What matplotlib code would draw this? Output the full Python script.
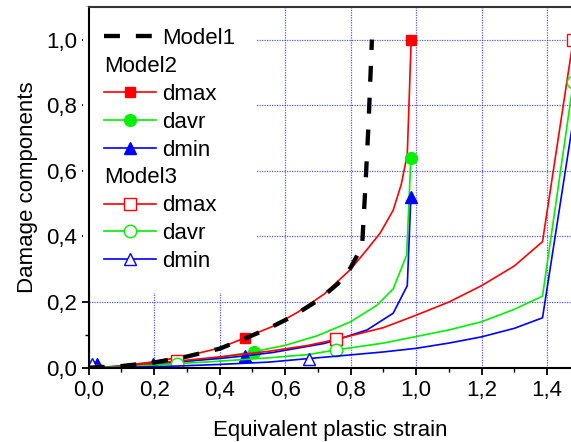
import matplotlib
matplotlib.use("Agg")
import matplotlib.pyplot as plt
from matplotlib.lines import Line2D
from matplotlib.ticker import MultipleLocator, FuncFormatter

plt.rcParams['font.family'] = ['Liberation Sans', 'DejaVu Sans']
plt.rcParams['font.size'] = 16

# Model1 (dashed black)
m1_x = [0.0, 0.1, 0.2, 0.3, 0.4, 0.48, 0.55, 0.62, 0.7, 0.76, 0.8, 0.835, 0.845, 0.855, 0.865]
m1_d = [0.0, 0.005, 0.016, 0.034, 0.058, 0.09, 0.12, 0.155, 0.205, 0.255, 0.305, 0.37, 0.55, 0.75, 1.0]

# Model2 (filled markers)
m2_dmax_x = [0.01, 0.05, 0.1, 0.2, 0.3, 0.4, 0.477, 0.56, 0.64, 0.72, 0.8, 0.85, 0.89, 0.93, 0.955, 0.973, 0.985]
m2_dmax = [0.02, 0.002, 0.006, 0.018, 0.036, 0.06, 0.091, 0.125, 0.17, 0.225, 0.3, 0.36, 0.41, 0.48, 0.56, 0.65, 1.0]
m2_davr_x = [0.01, 0.03, 0.05, 0.1, 0.2, 0.3, 0.4, 0.505, 0.6, 0.7, 0.8, 0.88, 0.93, 0.971, 0.984]
m2_davr = [0.02, 0.01, 0.001, 0.004, 0.01, 0.019, 0.032, 0.049, 0.068, 0.098, 0.14, 0.19, 0.24, 0.343, 0.64]
m2_dmin_x = [0.01, 0.024, 0.05, 0.1, 0.195, 0.3, 0.4, 0.477, 0.56, 0.64, 0.72, 0.76, 0.85, 0.93, 0.973, 0.984]
m2_dmin = [0.02, 0.012, 0.001, 0.004, 0.012, 0.02, 0.028, 0.036, 0.046, 0.06, 0.074, 0.086, 0.115, 0.166, 0.25, 0.52]

# Model3 (open markers)
m3_x = [0.01, 0.05, 0.15, 0.27, 0.4, 0.55, 0.67, 0.755, 0.9, 1.0, 1.1, 1.2, 1.3, 1.386, 1.48]
m3_dmax = [0.012, 0.001, 0.008, 0.02, 0.033, 0.05, 0.068, 0.086, 0.122, 0.16, 0.2, 0.25, 0.31, 0.384, 1.0]
m3_davr = [0.01, 0.001, 0.005, 0.012, 0.02, 0.03, 0.04, 0.054, 0.075, 0.095, 0.115, 0.14, 0.178, 0.218, 0.87]
m3_dmin_x = [0.01, 0.05, 0.15, 0.27, 0.4, 0.55, 0.673, 0.755, 0.9, 1.0, 1.1, 1.2, 1.3, 1.386, 1.49]
m3_dmin = [0.01, 0.0, 0.002, 0.005, 0.01, 0.017, 0.028, 0.035, 0.048, 0.059, 0.075, 0.094, 0.12, 0.152, 0.82]

RED, GREEN, BLUE = '#ff0000', '#00f000', '#0000ff'

fig = plt.figure(figsize=(5.71, 4.42), dpi=100)
ax = fig.add_axes([0.1553, 0.1681, 0.8447, 0.8167])

l1, = ax.plot(m1_x, m1_d, color='black', lw=3.1, dashes=(3.7, 3.7), zorder=4)

l2a, = ax.plot(m2_dmax_x, m2_dmax, color=RED, lw=1.2, marker='s', ms=7.5,
               markevery=[6, 16], zorder=3)
l2b, = ax.plot(m2_davr_x, m2_davr, color=GREEN, lw=1.2, marker='o', ms=8.5,
               markevery=[7, 14], zorder=3)
l2c, = ax.plot(m2_dmin_x, m2_dmin, color=BLUE, lw=1.2, marker='^', ms=9,
               markevery=[1, 4, 7, 15], zorder=3)

l3a, = ax.plot(m3_x, m3_dmax, color=RED, lw=1.2, marker='s', ms=8, mfc='white',
               markevery=[3, 7, 14], zorder=3)
l3b, = ax.plot(m3_x, m3_davr, color=GREEN, lw=1.2, marker='o', ms=9, mfc='white',
               markevery=[3, 7, 14], zorder=3)
l3c, = ax.plot(m3_dmin_x, m3_dmin, color=BLUE, lw=1.2, marker='^', ms=9, mfc='white',
               markevery=[0, 6, 14], zorder=3)

ax.set_xlim(0, 1.473)
ax.set_ylim(0, 1.1)
ax.xaxis.set_major_locator(MultipleLocator(0.2))
ax.xaxis.set_minor_locator(MultipleLocator(0.1))
ax.yaxis.set_major_locator(MultipleLocator(0.2))
ax.yaxis.set_minor_locator(MultipleLocator(0.1))
fmt = FuncFormatter(lambda v, p: f"{v:.1f}".replace('.', ','))
ax.xaxis.set_major_formatter(fmt)
ax.yaxis.set_major_formatter(fmt)
ax.tick_params(which='major', direction='out', length=5, width=1.3, labelsize=16)
ax.tick_params(which='minor', direction='out', length=3, width=1.0)
ax.grid(True, which='major', color='#3030ff', lw=0.9, linestyle=(0, (1, 1)), alpha=0.8)
ax.set_axisbelow(True)
for s in ['left', 'bottom', 'top']:
    ax.spines[s].set_linewidth(1.5)
    ax.spines[s].set_zorder(11)
ax.spines['top'].set_color('#333333')
ax.spines['right'].set_visible(False)

ax.set_xlabel('Equivalent plastic strain', fontsize=16, labelpad=14)
ax.set_ylabel('Damage components', fontsize=16, labelpad=6)

hdr2 = Line2D([], [], linestyle='none')
hdr3 = Line2D([], [], linestyle='none')
handles = [l1, hdr2, l2a, l2b, l2c, hdr3, l3a, l3b, l3c]
labels = ['Model1', 'Model2', 'dmax', 'davr', 'dmin', 'Model3', 'dmax', 'davr', 'dmin']
leg = ax.legend(handles, labels, loc='upper left', bbox_to_anchor=(-0.0125, 1.0),
                borderaxespad=0.0, borderpad=0.96, handlelength=2.35, handletextpad=0.27,
                labelspacing=0.31, frameon=True, facecolor='white', edgecolor='none',
                framealpha=1.0, fancybox=False, fontsize=16)
leg.set_zorder(10)

# header rows: text starts where the handles start
rows = leg._legend_handle_box.get_children()[0].get_children()
for i in (1, 5):
    box = rows[i]
    box.sep = 0
    box.get_children()[0].width = 0

fig.savefig('out.png', dpi=100)
